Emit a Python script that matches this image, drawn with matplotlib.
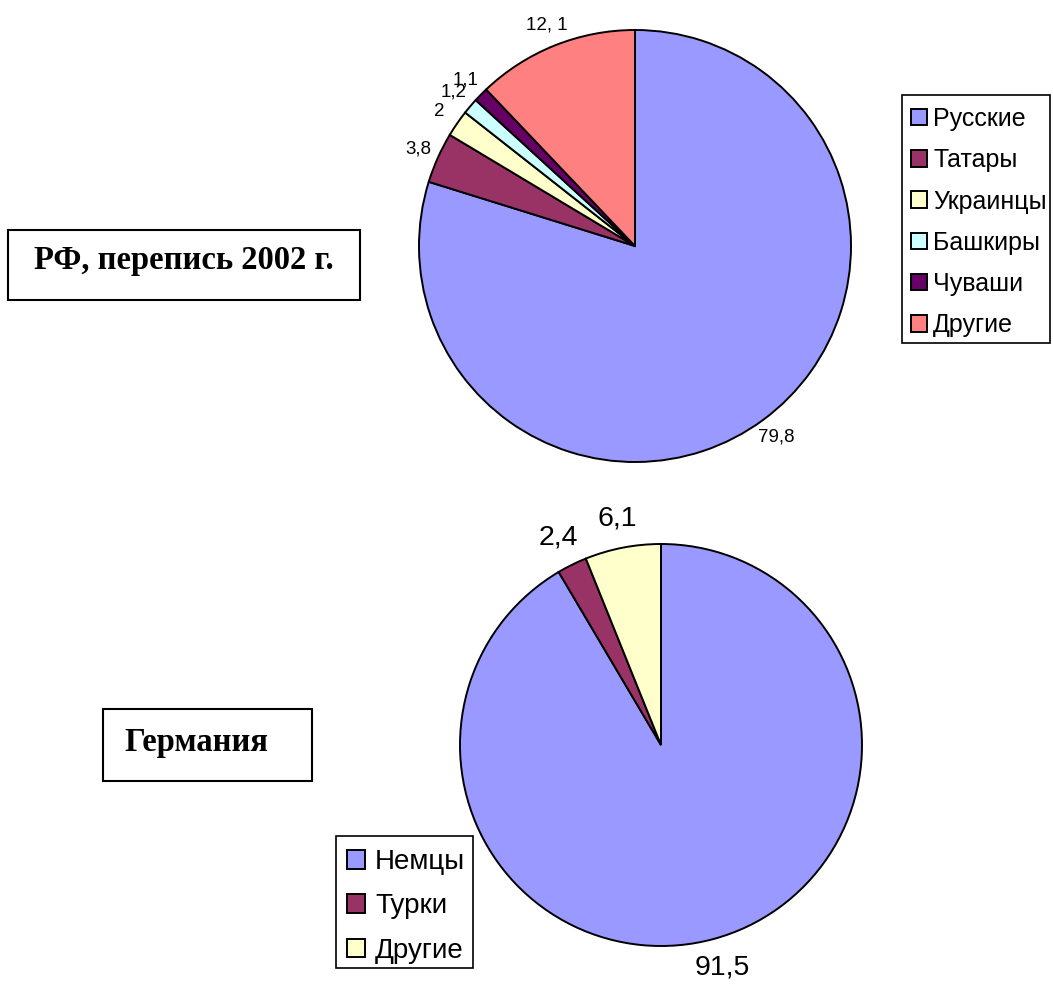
import matplotlib
matplotlib.use('Agg')
import matplotlib.pyplot as plt
from matplotlib.patches import Rectangle

# data
rf_labels = ['Русские', 'Татары', 'Украинцы', 'Башкиры', 'Чуваши', 'Другие']
rf_values = [79.8, 3.8, 2, 1.2, 1.1, 12.1]
rf_text = ['79,8', '3,8', '2', '1,2', '1,1', '12, 1']

de_labels = ['Немцы', 'Турки', 'Другие']
de_values = [91.5, 2.4, 6.1]
de_text = ['91,5', '2,4', '6,1']

colors = ['#9999FF', '#993366', '#FFFFCC', '#CCFFFF', '#660066', '#FF8080']

W, H = 1053, 988
fig = plt.figure(figsize=(W / 100, H / 100), dpi=100)
fig.patch.set_facecolor('white')
plt.rcParams['font.family'] = ['Liberation Sans', 'DejaVu Sans']


def pie_axes(cx, cy, r, lim=1.3):
    ax = fig.add_axes([(cx - lim * r) / W, 1 - (cy + lim * r) / H,
                       2 * lim * r / W, 2 * lim * r / H])
    return ax


def draw_pie(ax, values, labels, col, dist, fs):
    wedges, texts = ax.pie(values, labels=labels, colors=col, startangle=90,
                           counterclock=False, labeldistance=dist,
                           wedgeprops={'edgecolor': 'black', 'linewidth': 1.4},
                           textprops={'fontsize': fs, 'color': 'black'})
    for t in texts:
        t.set_ha('center')
        t.set_va('center')
    ax.set_xlim(-1.3, 1.3)
    ax.set_ylim(-1.3, 1.3)
    ax.set_aspect('equal')
    ax.axis('off')
    return wedges


def frame(x0, y0, x1, y1, lw=1.5):
    fig.add_artist(Rectangle((x0 / W, 1 - y1 / H), (x1 - x0) / W, (y1 - y0) / H,
                             transform=fig.transFigure, facecolor='white',
                             edgecolor='black', linewidth=lw, zorder=0))


def title_box(x0, y0, x1, y1, text, fs, dx=0, dy=5):
    frame(x0, y0, x1, y1)
    fig.text(((x0 + x1) / 2 + dx) / W, 1 - ((y0 + y1) / 2 - dy) / H, text,
             ha='center', va='center', fontsize=fs, fontweight='bold',
             family=['Liberation Serif', 'DejaVu Serif'])


def legend(handles, labels, x, y, fs, ls, hs, tp):
    leg = fig.legend(handles, labels, loc='upper left',
                     bbox_to_anchor=(x / W, 1 - y / H), borderaxespad=0,
                     fontsize=fs, frameon=False, handlelength=hs,
                     handleheight=hs, handletextpad=tp, labelspacing=ls,
                     borderpad=0)
    return leg


# top pie (RF)
ax1 = pie_axes(635, 246, 216)
w1 = draw_pie(ax1, rf_values, rf_text, colors, 1.1, 13.5)
frame(902, 95, 1050, 343, 1.2)
legend(w1, rf_labels, 911, 107, 18, 0.69, 0.64, 0.24)

# bottom pie (Germany)
ax2 = pie_axes(661, 745, 201)
w2 = draw_pie(ax2, de_values, de_text, colors[:3], 1.15, 20.5)
frame(336, 836, 473, 968, 1.2)
legend(w2, de_labels, 347, 849, 20, 0.66, 0.65, 0.36)

title_box(8, 230, 360, 300, 'РФ, перепись 2002 г.', 23.5)
title_box(103, 709, 312, 781, 'Германия', 23.5, dx=-11, dy=3)

fig.savefig('out.png', dpi=100)
